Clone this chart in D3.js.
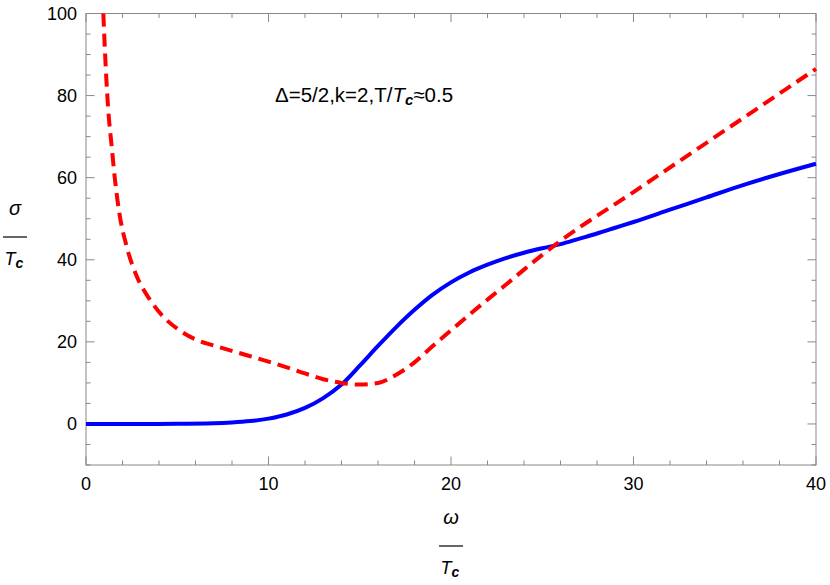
<!DOCTYPE html>
<html lang="en">
<head>
  <meta charset="utf-8">
  <title>sigma / Tc vs omega / Tc</title>
  <style>
  html, body {padding: 0; margin: 0; overflow: hidden; background: #fff}
  text {font-family: "Liberation Sans", Arial, sans-serif; fill: #000}
  </style>
</head>
<body>
  <svg width="830" height="585"></svg>
  <script src="https://d3js.org/d3.v7.min.js"></script>
  <script>

  // blue solid curve
  var blueW = [0, 3, 5, 7, 8, 9, 10, 11, 12, 13, 14, 15, 16, 17, 18, 19, 20, 21, 22, 23, 24, 25, 26, 27, 28, 29, 30, 32, 34, 36, 38, 40];
  var blueS = [0, 0.01, 0.03, 0.15, 0.35, 0.7, 1.3, 2.3, 3.9, 6.3, 9.6, 14.2, 19.0, 23.6, 27.8, 31.5, 34.5, 36.9, 38.8, 40.4, 41.7, 42.8, 43.8, 45.1, 46.4, 47.8, 49.2, 52.2, 55.2, 58.2, 60.9, 63.4];

  // red dashed curve
  var redW = [0.95, 1.08, 1.22, 1.41, 1.59, 1.83, 2.23, 2.78, 3.5, 4.2, 5, 6, 7, 8, 9, 10, 11, 12, 13, 14, 15, 16, 17, 18, 19, 20, 21, 22, 23, 24, 25, 26, 30, 34, 38, 40];
  var redS = [100, 87.0, 76.5, 67.5, 59.4, 51.3, 43.2, 36.0, 30.3, 26.3, 23.2, 20.6, 19.1, 17.8, 16.5, 15.2, 13.8, 12.3, 10.9, 10.0, 9.6, 10.0, 12.0, 15.0, 19.0, 22.8, 26.6, 30.3, 33.9, 37.6, 41.2, 44.6, 56.5, 68.5, 80.5, 86.5];

  var xTicks = [0, 10, 20, 30, 40];
  var yTicks = [0, 20, 40, 60, 80, 100];
  var xMinor = d3.range(0, 40.01, 2);
  var yMinor = d3.range(-10, 100.01, 5);
  var note = "Δ=5/2,k=2,T/";

  var svg = d3.select("svg");
  var mLeft = 86, mRight = 816, mTop = 13.5, mBottom = 465;

  var x = d3.scaleLinear().domain([0, 40]).range([mLeft, mRight]);
  var y = d3.scaleLinear().domain([-10, 100]).range([mBottom, mTop]);

  var frameColor = "#888";

  // ticks on all four sides, pointing inward
  function tickLen(v, majors) { return majors.indexOf(v) >= 0 ? 8.5 : 4.5; }

  var g = svg.append("g").attr("stroke", frameColor).attr("stroke-width", 1);
  xMinor.forEach(function(v) {
    var L = tickLen(v, xTicks);
    g.append("line").attr("x1", x(v)).attr("x2", x(v)).attr("y1", mBottom).attr("y2", mBottom - L);
    g.append("line").attr("x1", x(v)).attr("x2", x(v)).attr("y1", mTop).attr("y2", mTop + L);
  });
  yMinor.forEach(function(v) {
    var L = tickLen(v, yTicks);
    g.append("line").attr("y1", y(v)).attr("y2", y(v)).attr("x1", mLeft).attr("x2", mLeft + L);
    g.append("line").attr("y1", y(v)).attr("y2", y(v)).attr("x1", mRight).attr("x2", mRight - L);
  });
  g.append("rect")
    .attr("x", mLeft).attr("y", mTop)
    .attr("width", mRight - mLeft).attr("height", mBottom - mTop)
    .attr("fill", "none");

  // tick labels
  svg.selectAll(".xl").data(xTicks).enter().append("text")
    .attr("x", function(d) { return x(d); })
    .attr("y", 490)
    .attr("text-anchor", "middle")
    .style("font-size", "18px")
    .text(function(d) { return d; });

  svg.selectAll(".yl").data(yTicks).enter().append("text")
    .attr("x", 77)
    .attr("y", function(d) { return y(d) + 6.5; })
    .attr("text-anchor", "end")
    .style("font-size", "18px")
    .text(function(d) { return d; });

  // curves
  var line = d3.line()
    .x(function(d) { return x(d[0]); })
    .y(function(d) { return y(d[1]); })
    .curve(d3.curveMonotoneX);

  var blue = blueW.map(function(w, i) { return [w, blueS[i]]; });
  var red = redW.map(function(w, i) { return [w, redS[i]]; });

  svg.append("path").datum(blue)
    .attr("d", line)
    .attr("fill", "none")
    .attr("stroke", "#0000ff")
    .attr("stroke-width", 4);

  svg.append("path").datum(red)
    .attr("d", line)
    .attr("fill", "none")
    .attr("stroke", "#ff0000")
    .attr("stroke-width", 4)
    .attr("stroke-dasharray", "13,7");

  // annotation
  var t = svg.append("text").attr("x", 275).attr("y", 102).style("font-size", "20.5px");
  t.append("tspan").text(note);
  t.append("tspan").style("font-style", "italic").text("T");
  t.append("tspan").style("font-style", "italic").style("font-weight", "bold")
    .style("font-size", "15px").attr("dy", 3).text("c");
  t.append("tspan").attr("dy", -3).text("≈0.5");

  // axis labels as fractions
  function fraction(cx, yTop, sym) {
    svg.append("text").attr("x", cx).attr("y", yTop)
      .attr("text-anchor", "middle")
      .style("font-size", "20px").style("font-style", "italic")
      .text(sym);
    svg.append("line")
      .attr("x1", cx - 12).attr("x2", cx + 12)
      .attr("y1", yTop + 22).attr("y2", yTop + 22)
      .attr("stroke", "#000").attr("stroke-width", 1.2);
    var tt = svg.append("text").attr("x", cx - 1).attr("y", yTop + 50)
      .attr("text-anchor", "middle")
      .style("font-size", "18px").style("font-style", "italic");
    tt.append("tspan").text("T");
    tt.append("tspan").style("font-weight", "bold").style("font-size", "14px")
      .attr("dy", 3).text("c");
  }
  fraction(15, 215, "σ");
  fraction(451, 524, "ω");

  </script>
</body>
</html>
